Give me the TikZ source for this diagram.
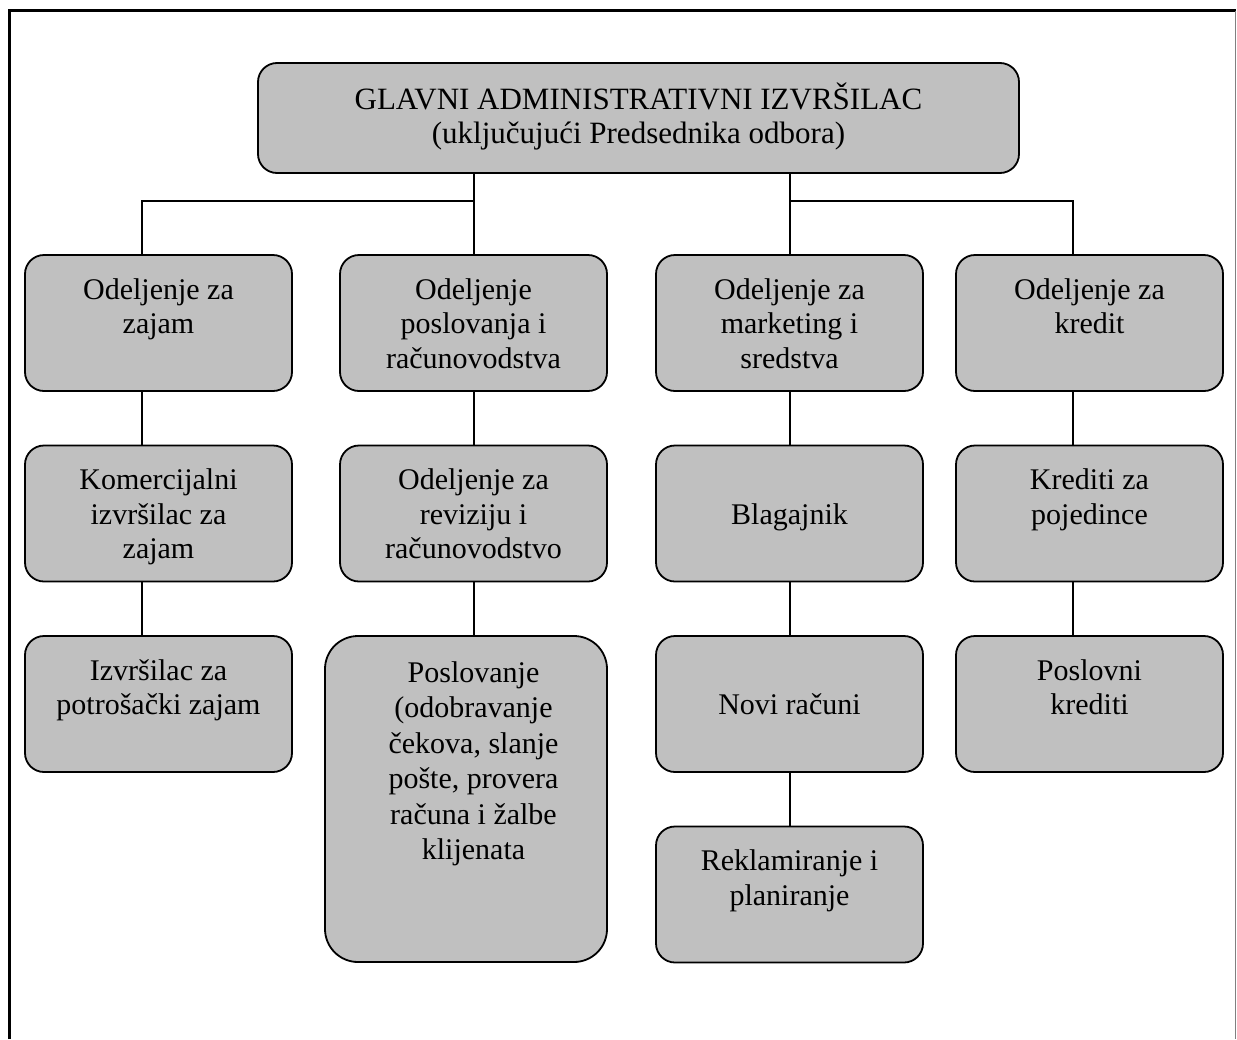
\documentclass[tikz,border=0pt]{standalone}
\usepackage{fontspec}
\setmainfont{Liberation Serif}
\definecolor{boxgray}{HTML}{C0C0C0}
\newcommand\orgtext[2][34.5]{\parbox[t]{300pt}{\centering\fontsize{30}{#1}\selectfont #2}}
\tikzset{
  orgbox/.style={draw=black, line width=1.8pt, fill=boxgray, rounded corners=19pt,
    inner sep=0pt, minimum width=267pt, minimum height=136pt},
  lbl/.style={anchor=base, inner sep=0pt, text=black},
  link/.style={draw=black, line width=2pt},
}
\begin{document}
\begin{tikzpicture}[x=1pt, y=-1pt]
\useasboundingbox (0,0) rectangle (1237,1039);
\fill[white] (0,0) rectangle (1237,1039);

% outer frame (open at the bottom)
\draw[line width=2.6pt] (9.5,1039) -- (9.5,10.5) -- (1235.5,10.5);
\draw[gray, line width=1.4pt] (1235.5,10.5) -- (1235.5,1039);

% head of the organisation
\node[orgbox, minimum width=761pt, minimum height=110pt] (top) at (638.5,118) {};
\node[lbl] (toptext) at ([yshift=-47pt]top.north)
  {\parbox[t]{740pt}{\centering\fontsize{31}{34}\selectfont
   GLAVNI ADMINISTRATIVNI IZVRŠILAC\\(uključujući Predsednika odbora)}};

% departments
\node[orgbox] (a1) at (158.5,323) {};
\node[orgbox] (a2) at (473.5,323) {};
\node[orgbox] (a3) at (789.5,323) {};
\node[orgbox] (a4) at (1089.5,323) {};

% second level
\node[orgbox] (b1) at (158.5,513.5) {};
\node[orgbox] (b2) at (473.5,513.5) {};
\node[orgbox] (b3) at (789.5,513.5) {};
\node[orgbox] (b4) at (1089.5,513.5) {};

% third level
\node[orgbox] (c1) at (158.5,704) {};
\node[orgbox, minimum width=282pt, minimum height=326pt, rounded corners=33pt] (c2) at (466,799) {};
\node[orgbox] (c3) at (789.5,704) {};
\node[orgbox] (c4) at (1089.5,704) {};

% fourth level
\node[orgbox] (d3) at (789.5,894.5) {};

% texts
\node[lbl] at ([yshift=-45pt]a1.north) {\orgtext{Odeljenje za\\zajam}};
\node[lbl] at ([yshift=-45pt]a2.north) {\orgtext{Odeljenje\\poslovanja i\\računovodstva}};
\node[lbl] at ([yshift=-45pt]a3.north) {\orgtext{Odeljenje za\\marketing i\\sredstva}};
\node[lbl] at ([yshift=-45pt]a4.north) {\orgtext{Odeljenje za\\kredit}};

\node[lbl] at ([yshift=-45pt]b1.north) {\orgtext{Komercijalni\\izvršilac za\\zajam}};
\node[lbl] at ([yshift=-45pt]b2.north) {\orgtext{Odeljenje za\\reviziju i\\računovodstvo}};
\node[lbl] at ([yshift=-79.5pt]b3.north) {\orgtext{Blagajnik}};
\node[lbl] at ([yshift=-45pt]b4.north) {\orgtext{Krediti za\\pojedince}};

\node[lbl] at ([yshift=-45pt]c1.north) {\orgtext{Izvršilac za\\potrošački zajam}};
\node[lbl] at ([yshift=-47pt]c2.north -| b2.north) {\orgtext[35.5]{Poslovanje\\(odobravanje\\čekova, slanje\\pošte, provera\\računa i žalbe\\klijenata}};
\node[lbl] at ([yshift=-79.5pt]c3.north) {\orgtext{Novi računi}};
\node[lbl] at ([yshift=-45pt]c4.north) {\orgtext{Poslovni\\krediti}};

\node[lbl] at ([yshift=-45pt]d3.north) {\orgtext{Reklamiranje i\\planiranje}};

% connectors
\coordinate (j1) at (142,201);
\coordinate (j4) at (1073,201);
\draw[link] (top.south -| a2.north) -- (a2.north);
\draw[link] (top.south -| a3.north) -- (a3.north);
\draw[link] (a2.north |- j1) -- (j1) -- (a1.north -| j1);
\draw[link] (a3.north |- j4) -- (j4) -- (a4.north -| j4);

\draw[link] (a1.south -| j1) -- (b1.north -| j1);
\draw[link] (b1.south -| j1) -- (c1.north -| j1);
\draw[link] (a2.south) -- (b2.north);
\draw[link] (b2.south) -- (c2.north -| b2.south);
\draw[link] (a3.south) -- (b3.north);
\draw[link] (b3.south) -- (c3.north);
\draw[link] (c3.south) -- (d3.north);
\draw[link] (a4.south -| j4) -- (b4.north -| j4);
\draw[link] (b4.south -| j4) -- (c4.north -| j4);
\end{tikzpicture}
\end{document}
